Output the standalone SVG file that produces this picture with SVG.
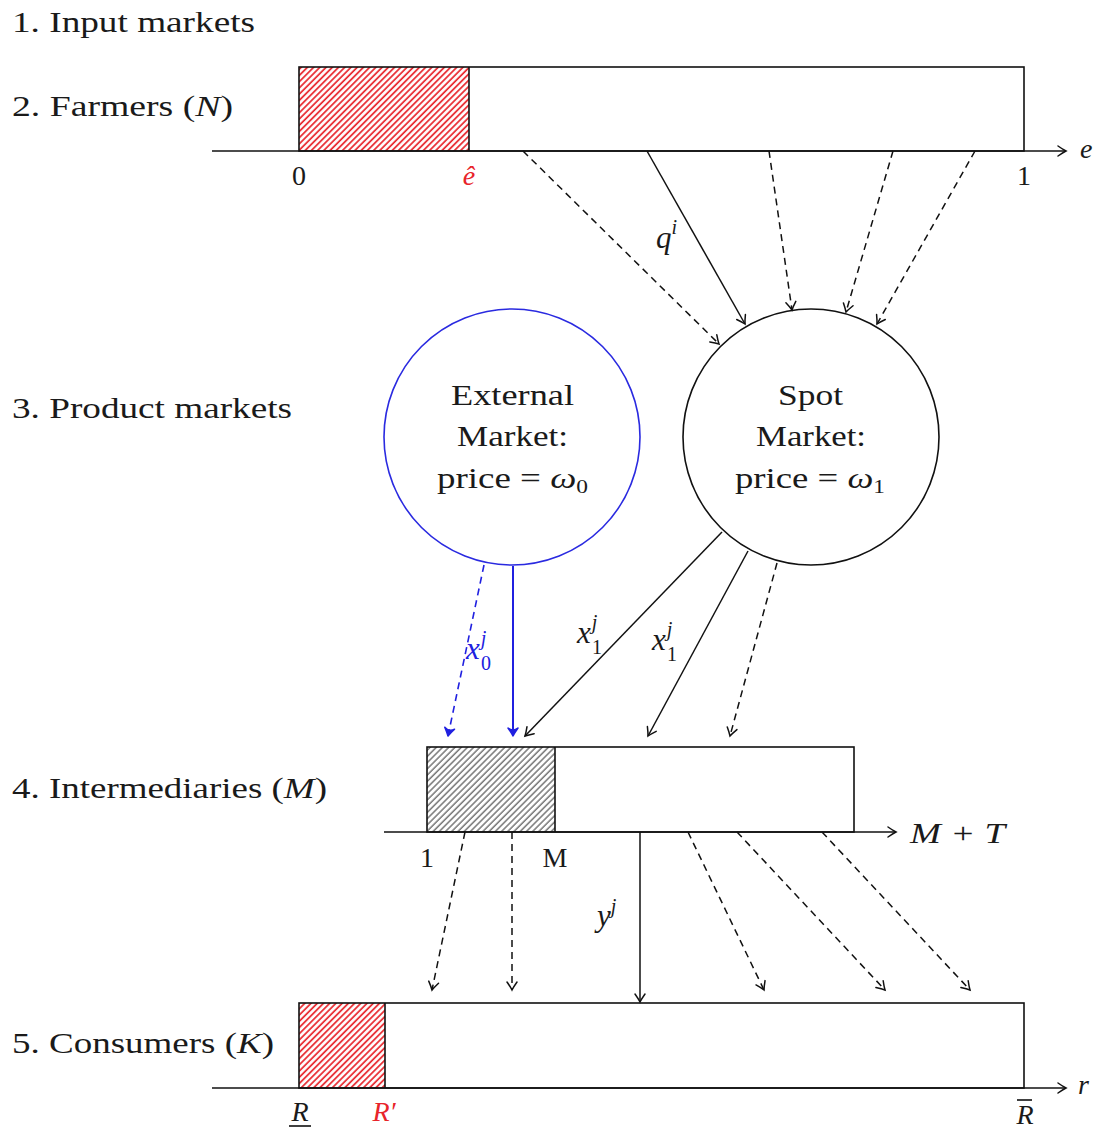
<svg xmlns="http://www.w3.org/2000/svg" width="1097" height="1130" viewBox="0 0 1097 1130">
<style>
text{font-family:"Liberation Serif","DejaVu Serif",serif;fill:#1a1a1a;}
.lbl{font-size:29px;}
.ctx{font-size:30px;}
.ax{font-size:28px;}
.cl{font-size:31px;}
.it{font-style:italic;}
.sm{font-size:19px;}
.sm2{font-size:20px;}
.red{fill:#e8242a;}
.blue{fill:#2020e0;}
.bar{fill:none;stroke:#111;stroke-width:1.6;}
.axis{fill:none;stroke:#111;stroke-width:1.6;marker-end:url(#ahead);}
.c{fill:none;stroke:#111;stroke-width:1.5;marker-end:url(#ahead);}
.d{fill:none;stroke:#111;stroke-width:1.5;stroke-dasharray:7 5;marker-end:url(#ahead);}
.cb{fill:none;stroke:#2020e0;stroke-width:2;marker-end:url(#bhead);}
.db{fill:none;stroke:#2020e0;stroke-width:1.6;stroke-dasharray:7 5;marker-end:url(#bhead);}
</style>
<defs>
<marker id="ahead" markerUnits="userSpaceOnUse" markerWidth="14" markerHeight="14" viewBox="-10 -7 12 14" refX="0" refY="0" orient="auto">
<path d="M-8,-5 Q-3,-1.5 0,0 Q-3,1.5 -8,5" fill="none" stroke="#111" stroke-width="1.5" stroke-linecap="round"/>
</marker>
<marker id="bhead" markerUnits="userSpaceOnUse" markerWidth="14" markerHeight="14" viewBox="-10 -7 12 14" refX="0" refY="0" orient="auto">
<path d="M-8,-5 Q-3,-1.5 0,0 Q-3,1.5 -8,5 Q-4,0 -8,-5Z" fill="#2020e0" stroke="#2020e0" stroke-width="1.5" stroke-linejoin="round"/>
</marker>
<pattern id="redHatch" patternUnits="userSpaceOnUse" width="4.4" height="4.4" patternTransform="rotate(45)">
<rect width="4.4" height="4.4" fill="#fff"/>
<line x1="1" y1="0" x2="1" y2="4.4" stroke="#e8242a" stroke-width="1.7"/>
</pattern>
<pattern id="grayHatch" patternUnits="userSpaceOnUse" width="4.4" height="4.4" patternTransform="rotate(45)">
<rect width="4.4" height="4.4" fill="#fff"/>
<line x1="1" y1="0" x2="1" y2="4.4" stroke="#777" stroke-width="1.5"/>
</pattern>
</defs>

<g id="row-labels">
<text class="lbl" x="12" y="32" textLength="243" lengthAdjust="spacingAndGlyphs">1. Input markets</text>
<text class="lbl" x="12" y="116" textLength="221" lengthAdjust="spacingAndGlyphs">2. Farmers (<tspan class="it">N</tspan>)</text>
<text class="lbl" x="12" y="418" textLength="280" lengthAdjust="spacingAndGlyphs">3. Product markets</text>
<text class="lbl" x="12" y="798" textLength="315" lengthAdjust="spacingAndGlyphs">4. Intermediaries (<tspan class="it">M</tspan>)</text>
<text class="lbl" x="12" y="1053" textLength="262" lengthAdjust="spacingAndGlyphs">5. Consumers (<tspan class="it">K</tspan>)</text>
</g>

<g id="farmers">
<rect x="299" y="67" width="170" height="84" fill="url(#redHatch)"/>
<rect class="bar" x="299" y="67" width="725" height="84"/>
<line class="bar" x1="469" y1="67" x2="469" y2="151"/>
<path class="axis" d="M212,151 H1066"/>
<text class="ax" x="299" y="185" text-anchor="middle">0</text>
<text class="ax it red" x="469" y="185" text-anchor="middle">ê</text>
<text class="ax" x="1024" y="185" text-anchor="middle">1</text>
<text class="ax it" x="1080" y="158">e</text>
</g>

<g id="external-market">
<circle cx="512" cy="437" r="128" fill="none" stroke="#2a2ae0" stroke-width="1.6"/>
<text class="ctx" x="451" y="405" textLength="123" lengthAdjust="spacingAndGlyphs">External</text>
<text class="ctx" x="457" y="446" textLength="111" lengthAdjust="spacingAndGlyphs">Market:</text>
<text class="ctx" x="437" y="488" textLength="151" lengthAdjust="spacingAndGlyphs">price = <tspan class="it">ω</tspan><tspan class="sm" dy="5">0</tspan></text>
</g>

<g id="spot-market">
<circle cx="811" cy="437" r="128" fill="none" stroke="#111" stroke-width="1.6"/>
<text class="ctx" x="778" y="405" textLength="65" lengthAdjust="spacingAndGlyphs">Spot</text>
<text class="ctx" x="756" y="446" textLength="110" lengthAdjust="spacingAndGlyphs">Market:</text>
<text class="ctx" x="735" y="488" textLength="150" lengthAdjust="spacingAndGlyphs">price = <tspan class="it">ω</tspan><tspan class="sm" dy="5">1</tspan></text>
</g>

<g id="intermediaries">
<rect x="427" y="747" width="128" height="85" fill="url(#grayHatch)"/>
<rect class="bar" x="427" y="747" width="427" height="85"/>
<line class="bar" x1="555" y1="747" x2="555" y2="832"/>
<path class="axis" d="M384,832 H896"/>
<text class="ax" x="427" y="867" text-anchor="middle">1</text>
<text class="ax" x="555" y="867" text-anchor="middle">M</text>
<text class="lbl it" x="910" y="843" textLength="95" lengthAdjust="spacingAndGlyphs">M + T</text>
</g>

<g id="consumers">
<rect x="299" y="1003" width="86" height="85" fill="url(#redHatch)"/>
<rect class="bar" x="299" y="1003" width="725" height="85"/>
<line class="bar" x1="385" y1="1003" x2="385" y2="1088"/>
<path class="axis" d="M212,1088 H1066"/>
<text class="ax it" x="300" y="1121" text-anchor="middle">R</text>
<line x1="289" y1="1126" x2="311" y2="1126" stroke="#111" stroke-width="1.6"/>
<text class="ax it red" x="384" y="1121" text-anchor="middle">R′</text>
<text class="ax it" x="1025" y="1124" text-anchor="middle">R</text>
<line x1="1017" y1="1100" x2="1032" y2="1100" stroke="#111" stroke-width="1.6"/>
<text class="ax it" x="1078" y="1094">r</text>
</g>

<g id="connectors">
<path class="d" d="M523,151 L719,344"/>
<path class="c" d="M647,151 L745,324"/>
<path class="d" d="M769,151 L792,310"/>
<path class="d" d="M893,151 L846,312"/>
<path class="d" d="M975,151 L877,324"/>
<path class="db" d="M484,565 L448,736"/>
<path class="cb" d="M513,566 L513,736"/>
<path class="c" d="M722,532 L525,736"/>
<path class="c" d="M748,551 L648,736"/>
<path class="d" d="M777,563 L730,736"/>
<path class="d" d="M465,832 L432,990"/>
<path class="d" d="M512,832 L512,990"/>
<path class="c" d="M640,832 L640,1002"/>
<path class="d" d="M688,832 L764,990"/>
<path class="d" d="M737,832 L885,990"/>
<path class="d" d="M822,832 L970,990"/>
</g>

<g id="connector-labels">
<text class="cl it" x="656" y="248">q<tspan class="sm2" dy="-14">i</tspan></text>
<text class="cl it blue" x="466" y="659">x<tspan class="sm2" dx="1" dy="-14">j</tspan></text>
<text class="sm2 blue" x="481" y="670">0</text>
<text class="cl it" x="577" y="643">x<tspan class="sm2" dx="1" dy="-14">j</tspan></text>
<text class="sm2" x="592" y="654">1</text>
<text class="cl it" x="652" y="650">x<tspan class="sm2" dx="1" dy="-14">j</tspan></text>
<text class="sm2" x="667" y="661">1</text>
<text class="cl it" x="597" y="926">y<tspan class="sm2" dy="-13">j</tspan></text>
</g>
</svg>
